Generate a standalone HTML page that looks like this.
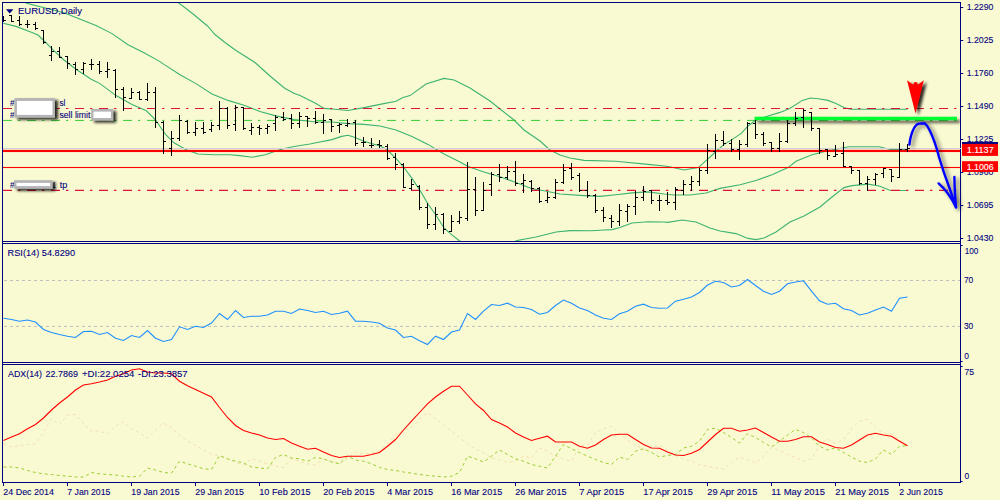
<!DOCTYPE html><html><head><meta charset="utf-8"><title>EURUSD,Daily</title><style>html,body{margin:0;padding:0;background:#FAFAD2;}svg{display:block}</style></head><body><svg width="1000" height="500" viewBox="0 0 1000 500" font-family="Liberation Sans, Arial, sans-serif">
<defs>
<clipPath id="cg"><rect x="754.5" y="116" width="202.5" height="6"/></clipPath>
<clipPath id="cm"><rect x="3" y="3" width="957" height="238"/></clipPath>
<clipPath id="cr"><rect x="3" y="244" width="957" height="118"/></clipPath>
<clipPath id="ca"><rect x="3" y="365" width="957" height="117"/></clipPath>
<filter id="sh" x="-30%" y="-30%" width="180%" height="180%"><feGaussianBlur in="SourceAlpha" stdDeviation="1.7"/><feOffset dx="2.8" dy="2.4"/><feComponentTransfer><feFuncA type="linear" slope="0.85"/></feComponentTransfer><feMerge><feMergeNode/><feMergeNode in="SourceGraphic"/></feMerge></filter>
<filter id="sh3" x="-5%" y="-200%" width="110%" height="600%"><feGaussianBlur in="SourceAlpha" stdDeviation="1.8"/><feOffset dx="2.5" dy="2.8"/><feComponentTransfer><feFuncA type="linear" slope="0.62"/></feComponentTransfer><feMerge><feMergeNode/><feMergeNode in="SourceGraphic"/></feMerge></filter>
<filter id="sh2" x="-30%" y="-30%" width="180%" height="180%"><feGaussianBlur in="SourceAlpha" stdDeviation="2.1"/><feOffset dx="3.4" dy="2.4"/><feComponentTransfer><feFuncA type="linear" slope="0.6"/></feComponentTransfer><feMerge><feMergeNode/><feMergeNode in="SourceGraphic"/></feMerge></filter>
</defs>
<rect width="1000" height="500" fill="#FAFAD2"/>
<g clip-path="url(#cm)">
<polyline points="177.5,2.0 192.5,13.5 207.5,26.0 215.0,34.5 225.0,42.5 236.0,50.5 255.0,62.5 270.0,76.0 285.0,88.5 294.0,93.2 300.0,95.6 310.0,100.4 316.0,103.6 324.0,108.4 335.0,109.2 348.0,110.5 364.0,107.6 380.0,104.4 396.0,101.2 403.0,97.5 410.0,95.6 426.0,84.0 444.0,78.4 454.0,80.0 470.0,88.0 490.0,101.0 500.0,109.0 514.0,120.0 524.0,130.0 540.0,141.0 550.0,150.0 560.0,155.0 570.0,158.0 584.0,160.4 616.0,161.2 648.0,164.4 664.0,166.0 669.6,166.8 684.0,170.0 698.4,167.6 708.0,158.8 716.0,151.5 724.0,144.4 732.0,139.6 741.6,133.2 748.0,126.0 754.4,121.2 764.0,117.2 780.0,112.4 789.6,108.4 802.4,100.4 810.4,98.0 818.4,98.8 828.0,100.4 836.0,103.6 844.0,107.6 850.4,109.2 907.5,109.2" fill="none" stroke="#3CB371" stroke-width="1.1"/>
<polyline points="24.0,1.0 26.4,3.2 64.0,12.8 96.0,25.6 112.0,33.6 128.0,44.8 144.0,52.8 160.0,61.6 164.0,64.4 180.0,74.8 196.0,83.6 212.0,94.0 228.0,100.4 244.0,105.2 252.4,108.4 260.0,111.6 274.8,115.6 294.0,119.6 310.0,121.2 316.0,122.0 332.0,122.0 348.0,123.6 364.0,124.4 380.0,126.0 396.0,130.0 412.0,136.4 428.0,144.4 444.0,154.0 460.0,162.0 468.0,166.4 484.0,172.0 500.0,176.8 516.0,182.4 532.0,188.8 544.0,190.8 560.0,194.0 584.0,195.6 600.0,196.4 616.0,194.8 632.0,192.9 648.0,191.9 664.0,194.0 674.0,195.0 690.0,195.0 706.0,193.0 720.0,188.4 740.0,184.8 756.0,180.5 772.0,174.8 788.0,167.6 796.0,161.2 804.0,158.0 812.0,154.8 820.0,152.8 828.0,150.5 836.0,149.2 848.8,146.8 879.2,146.8 890.4,149.5 907.5,149.5" fill="none" stroke="#3CB371" stroke-width="1.1"/>
<polyline points="3.2,23.2 16.0,26.4 32.0,32.4 38.0,35.0 43.2,40.0 52.8,49.6 64.0,60.0 75.2,68.8 91.2,79.2 100.0,83.6 116.0,95.6 132.0,104.4 146.4,110.8 152.8,117.2 156.4,121.2 162.4,130.0 166.0,134.8 174.0,142.8 186.8,150.0 198.0,154.0 214.0,154.8 230.0,154.8 239.6,155.6 252.4,157.2 265.2,154.8 281.2,149.2 294.0,146.5 310.0,144.0 316.0,142.8 332.0,139.6 341.6,136.4 348.0,135.3 354.4,137.2 364.0,141.2 380.0,146.0 386.4,149.2 396.0,158.5 404.0,167.5 412.0,178.4 420.0,190.4 428.0,204.0 436.0,215.2 444.0,228.0 450.4,233.6 459.0,240.5 475.0,248.0 500.0,248.0 517.0,240.5 536.0,237.0 556.0,232.0 570.0,230.6 592.0,230.8 604.0,230.0 612.0,229.6 620.0,227.5 632.0,223.0 648.0,221.7 664.0,222.0 668.0,222.4 682.0,220.0 696.0,222.0 710.0,228.0 720.0,231.0 736.0,233.6 748.0,238.4 756.0,239.6 764.0,238.0 776.0,232.0 790.0,222.0 804.0,216.0 820.0,207.0 832.0,197.0 844.0,187.6 852.0,185.6 868.0,184.1 879.2,186.0 890.4,190.5 907.5,190.5" fill="none" stroke="#3CB371" stroke-width="1.1"/>
<rect x="3" y="148" width="957" height="1" fill="#D0D0DA"/>
<line x1="3" x2="958" y1="108.5" y2="108.5" stroke="#DC143C" stroke-width="1.1" stroke-dasharray="9 6 2.4 6.6"/>
<line x1="3" x2="958" y1="120.4" y2="120.4" stroke="#32CD32" stroke-width="1" stroke-dasharray="9 6 2.4 6.6"/>
<line x1="3" x2="958" y1="190.4" y2="190.4" stroke="#DC143C" stroke-width="1.1" stroke-dasharray="9 6 2.4 6.6"/>
<rect x="3" y="149.85" width="957" height="2.2" fill="#FF0000"/>
<rect x="3" y="166.95" width="957" height="1.1" fill="#FF0000"/>
<g filter="url(#sh3)"><rect x="754.5" y="116.7" width="202.5" height="3.4" fill="#00FF32"/></g>
<line x1="3" x2="958" y1="120.4" y2="120.4" stroke="#1E9E28" stroke-width="0.9" stroke-dasharray="9 6 2.4 6.6" clip-path="url(#cg)"/>
<path d="M3.5 16V22M1.0 19.5H3.5M3.5 20.5H6.0" stroke="#000" stroke-width="1" fill="none"/>
<path d="M11.5 15V22M9.0 15.5H11.5M11.5 21.5H14.0" stroke="#000" stroke-width="1" fill="none"/>
<path d="M19.5 16V26M17.0 20.5H19.5M19.5 24.5H22.0" stroke="#000" stroke-width="1" fill="none"/>
<path d="M27.5 20V28M25.0 24.5H27.5M27.5 24.5H30.0" stroke="#000" stroke-width="1" fill="none"/>
<path d="M35.5 22V30M33.0 24.5H35.5M35.5 28.5H38.0" stroke="#000" stroke-width="1" fill="none"/>
<path d="M43.5 30V44M41.0 30.5H43.5M43.5 42.5H46.0" stroke="#000" stroke-width="1" fill="none"/>
<path d="M51.5 46V61M49.0 55.5H51.5M51.5 51.5H54.0" stroke="#000" stroke-width="1" fill="none"/>
<path d="M59.5 47V58M57.0 51.5H59.5M59.5 57.5H62.0" stroke="#000" stroke-width="1" fill="none"/>
<path d="M67.5 56V69M65.0 56.5H67.5M67.5 63.5H70.0" stroke="#000" stroke-width="1" fill="none"/>
<path d="M75.5 62V75M73.0 64.5H75.5M75.5 69.5H78.0" stroke="#000" stroke-width="1" fill="none"/>
<path d="M83.5 62V74M81.0 69.5H83.5M83.5 63.5H86.0" stroke="#000" stroke-width="1" fill="none"/>
<path d="M91.5 59V70M89.0 64.5H91.5M91.5 64.5H94.0" stroke="#000" stroke-width="1" fill="none"/>
<path d="M99.5 61V74M97.0 64.5H99.5M99.5 71.5H102.0" stroke="#000" stroke-width="1" fill="none"/>
<path d="M107.5 62V78M105.0 71.5H107.5M107.5 69.5H110.0" stroke="#000" stroke-width="1" fill="none"/>
<path d="M115.5 69V98M113.0 70.5H115.5M115.5 89.5H118.0" stroke="#000" stroke-width="1" fill="none"/>
<path d="M123.5 87V111M121.0 89.5H123.5M123.5 97.5H126.0" stroke="#000" stroke-width="1" fill="none"/>
<path d="M131.5 88V99M129.0 98.5H131.5M131.5 92.5H134.0" stroke="#000" stroke-width="1" fill="none"/>
<path d="M139.5 91V100M137.0 92.5H139.5M139.5 99.5H142.0" stroke="#000" stroke-width="1" fill="none"/>
<path d="M147.5 83V101M145.0 99.5H147.5M147.5 92.5H150.0" stroke="#000" stroke-width="1" fill="none"/>
<path d="M155.5 87V128M153.0 92.5H155.5M155.5 122.5H158.0" stroke="#000" stroke-width="1" fill="none"/>
<path d="M163.5 121V154M161.0 122.5H163.5M163.5 141.5H166.0" stroke="#000" stroke-width="1" fill="none"/>
<path d="M171.5 131V156M169.0 148.5H171.5M171.5 138.5H174.0" stroke="#000" stroke-width="1" fill="none"/>
<path d="M179.5 115V141M177.0 138.5H179.5M179.5 120.5H182.0" stroke="#000" stroke-width="1" fill="none"/>
<path d="M187.5 120V134M185.0 121.5H187.5M187.5 132.5H190.0" stroke="#000" stroke-width="1" fill="none"/>
<path d="M195.5 122V136M193.0 132.5H195.5M195.5 128.5H198.0" stroke="#000" stroke-width="1" fill="none"/>
<path d="M203.5 122V134M201.0 128.5H203.5M203.5 132.5H206.0" stroke="#000" stroke-width="1" fill="none"/>
<path d="M211.5 122V132M209.0 129.5H211.5M211.5 125.5H214.0" stroke="#000" stroke-width="1" fill="none"/>
<path d="M219.5 101V130M217.0 125.5H219.5M219.5 108.5H222.0" stroke="#000" stroke-width="1" fill="none"/>
<path d="M227.5 107V129M225.0 108.5H227.5M227.5 125.5H230.0" stroke="#000" stroke-width="1" fill="none"/>
<path d="M235.5 105V131M233.0 124.5H235.5M235.5 107.5H238.0" stroke="#000" stroke-width="1" fill="none"/>
<path d="M243.5 107V130M241.0 107.5H243.5M243.5 128.5H246.0" stroke="#000" stroke-width="1" fill="none"/>
<path d="M251.5 123V135M249.0 130.5H251.5M251.5 127.5H254.0" stroke="#000" stroke-width="1" fill="none"/>
<path d="M259.5 125V135M257.0 127.5H259.5M259.5 128.5H262.0" stroke="#000" stroke-width="1" fill="none"/>
<path d="M267.5 124V134M265.0 128.5H267.5M267.5 126.5H270.0" stroke="#000" stroke-width="1" fill="none"/>
<path d="M275.5 115V131M273.0 123.5H275.5M275.5 117.5H278.0" stroke="#000" stroke-width="1" fill="none"/>
<path d="M283.5 112V121M281.0 117.5H283.5M283.5 119.5H286.0" stroke="#000" stroke-width="1" fill="none"/>
<path d="M291.5 114V129M289.0 118.5H291.5M291.5 123.5H294.0" stroke="#000" stroke-width="1" fill="none"/>
<path d="M299.5 112V128M297.0 123.5H299.5M299.5 116.5H302.0" stroke="#000" stroke-width="1" fill="none"/>
<path d="M307.5 116V127M305.0 116.5H307.5M307.5 118.5H310.0" stroke="#000" stroke-width="1" fill="none"/>
<path d="M315.5 111V124M313.0 118.5H315.5M315.5 122.5H318.0" stroke="#000" stroke-width="1" fill="none"/>
<path d="M323.5 114V134M321.0 122.5H323.5M323.5 120.5H326.0" stroke="#000" stroke-width="1" fill="none"/>
<path d="M331.5 119V132M329.0 119.5H331.5M331.5 126.5H334.0" stroke="#000" stroke-width="1" fill="none"/>
<path d="M339.5 123V133M337.0 125.5H339.5M339.5 124.5H342.0" stroke="#000" stroke-width="1" fill="none"/>
<path d="M347.5 119V127M345.0 125.5H347.5M347.5 123.5H350.0" stroke="#000" stroke-width="1" fill="none"/>
<path d="M355.5 120V146M353.0 122.5H355.5M355.5 143.5H358.0" stroke="#000" stroke-width="1" fill="none"/>
<path d="M363.5 137V147M361.0 142.5H363.5M363.5 142.5H366.0" stroke="#000" stroke-width="1" fill="none"/>
<path d="M371.5 138V148M369.0 145.5H371.5M371.5 145.5H374.0" stroke="#000" stroke-width="1" fill="none"/>
<path d="M379.5 140V148M377.0 144.5H379.5M379.5 145.5H382.0" stroke="#000" stroke-width="1" fill="none"/>
<path d="M387.5 144V160M385.0 146.5H387.5M387.5 158.5H390.0" stroke="#000" stroke-width="1" fill="none"/>
<path d="M395.5 153V170M393.0 157.5H395.5M395.5 164.5H398.0" stroke="#000" stroke-width="1" fill="none"/>
<path d="M403.5 163V188M401.0 164.5H403.5M403.5 187.5H406.0" stroke="#000" stroke-width="1" fill="none"/>
<path d="M411.5 179V190M409.0 188.5H411.5M411.5 184.5H414.0" stroke="#000" stroke-width="1" fill="none"/>
<path d="M419.5 185V210M417.0 186.5H419.5M419.5 207.5H422.0" stroke="#000" stroke-width="1" fill="none"/>
<path d="M427.5 203V229M425.0 207.5H427.5M427.5 224.5H430.0" stroke="#000" stroke-width="1" fill="none"/>
<path d="M435.5 207V230M433.0 224.5H435.5M435.5 214.5H438.0" stroke="#000" stroke-width="1" fill="none"/>
<path d="M443.5 213V234M441.0 214.5H443.5M443.5 229.5H446.0" stroke="#000" stroke-width="1" fill="none"/>
<path d="M451.5 215V232M449.0 231.5H451.5M451.5 221.5H454.0" stroke="#000" stroke-width="1" fill="none"/>
<path d="M459.5 211V224M457.0 221.5H459.5M459.5 217.5H462.0" stroke="#000" stroke-width="1" fill="none"/>
<path d="M467.5 162V221M465.0 218.5H467.5M467.5 189.5H470.0" stroke="#000" stroke-width="1" fill="none"/>
<path d="M475.5 177V216M473.0 189.5H475.5M475.5 210.5H478.0" stroke="#000" stroke-width="1" fill="none"/>
<path d="M483.5 182V211M481.0 210.5H483.5M483.5 190.5H486.0" stroke="#000" stroke-width="1" fill="none"/>
<path d="M491.5 172V196M489.0 184.5H491.5M491.5 174.5H494.0" stroke="#000" stroke-width="1" fill="none"/>
<path d="M499.5 164V182M497.0 174.5H499.5M499.5 177.5H502.0" stroke="#000" stroke-width="1" fill="none"/>
<path d="M507.5 166V180M505.0 177.5H507.5M507.5 171.5H510.0" stroke="#000" stroke-width="1" fill="none"/>
<path d="M515.5 161V186M513.0 171.5H515.5M515.5 183.5H518.0" stroke="#000" stroke-width="1" fill="none"/>
<path d="M523.5 174V193M521.0 183.5H523.5M523.5 180.5H526.0" stroke="#000" stroke-width="1" fill="none"/>
<path d="M531.5 180V192M529.0 181.5H531.5M531.5 188.5H534.0" stroke="#000" stroke-width="1" fill="none"/>
<path d="M539.5 187V203M537.0 188.5H539.5M539.5 201.5H542.0" stroke="#000" stroke-width="1" fill="none"/>
<path d="M547.5 192V203M545.0 200.5H547.5M547.5 197.5H550.0" stroke="#000" stroke-width="1" fill="none"/>
<path d="M555.5 179V199M553.0 197.5H555.5M555.5 182.5H558.0" stroke="#000" stroke-width="1" fill="none"/>
<path d="M563.5 164V184M561.0 182.5H563.5M563.5 170.5H566.0" stroke="#000" stroke-width="1" fill="none"/>
<path d="M571.5 163V180M569.0 168.5H571.5M571.5 177.5H574.0" stroke="#000" stroke-width="1" fill="none"/>
<path d="M579.5 173V192M577.0 175.5H579.5M579.5 190.5H582.0" stroke="#000" stroke-width="1" fill="none"/>
<path d="M587.5 181V198M585.0 190.5H587.5M587.5 195.5H590.0" stroke="#000" stroke-width="1" fill="none"/>
<path d="M595.5 194V213M593.0 195.5H595.5M595.5 210.5H598.0" stroke="#000" stroke-width="1" fill="none"/>
<path d="M603.5 207V222M601.0 210.5H603.5M603.5 217.5H606.0" stroke="#000" stroke-width="1" fill="none"/>
<path d="M611.5 215V228M609.0 218.5H611.5M611.5 221.5H614.0" stroke="#000" stroke-width="1" fill="none"/>
<path d="M619.5 204V226M617.0 221.5H619.5M619.5 210.5H622.0" stroke="#000" stroke-width="1" fill="none"/>
<path d="M627.5 204V222M625.0 211.5H627.5M627.5 206.5H630.0" stroke="#000" stroke-width="1" fill="none"/>
<path d="M635.5 191V215M633.0 206.5H635.5M635.5 197.5H638.0" stroke="#000" stroke-width="1" fill="none"/>
<path d="M643.5 186V201M641.0 197.5H643.5M643.5 191.5H646.0" stroke="#000" stroke-width="1" fill="none"/>
<path d="M651.5 190V204M649.0 190.5H651.5M651.5 200.5H654.0" stroke="#000" stroke-width="1" fill="none"/>
<path d="M659.5 195V211M657.0 200.5H659.5M659.5 200.5H662.0" stroke="#000" stroke-width="1" fill="none"/>
<path d="M667.5 192V205M665.0 200.5H667.5M667.5 202.5H670.0" stroke="#000" stroke-width="1" fill="none"/>
<path d="M675.5 187V210M673.0 202.5H675.5M675.5 189.5H678.0" stroke="#000" stroke-width="1" fill="none"/>
<path d="M683.5 180V195M681.0 190.5H683.5M683.5 184.5H686.0" stroke="#000" stroke-width="1" fill="none"/>
<path d="M691.5 176V191M689.0 184.5H691.5M691.5 181.5H694.0" stroke="#000" stroke-width="1" fill="none"/>
<path d="M699.5 168V186M697.0 181.5H699.5M699.5 170.5H702.0" stroke="#000" stroke-width="1" fill="none"/>
<path d="M707.5 144V174M705.0 170.5H707.5M707.5 150.5H710.0" stroke="#000" stroke-width="1" fill="none"/>
<path d="M715.5 134V159M713.0 151.5H715.5M715.5 140.5H718.0" stroke="#000" stroke-width="1" fill="none"/>
<path d="M723.5 131V146M721.0 140.5H723.5M723.5 143.5H726.0" stroke="#000" stroke-width="1" fill="none"/>
<path d="M731.5 139V152M729.0 143.5H731.5M731.5 149.5H734.0" stroke="#000" stroke-width="1" fill="none"/>
<path d="M739.5 140V160M737.0 149.5H739.5M739.5 144.5H742.0" stroke="#000" stroke-width="1" fill="none"/>
<path d="M747.5 122V147M745.0 144.5H747.5M747.5 123.5H750.0" stroke="#000" stroke-width="1" fill="none"/>
<path d="M755.5 120V139M753.0 123.5H755.5M755.5 134.5H758.0" stroke="#000" stroke-width="1" fill="none"/>
<path d="M763.5 132V146M761.0 134.5H763.5M763.5 143.5H766.0" stroke="#000" stroke-width="1" fill="none"/>
<path d="M771.5 142V152M769.0 142.5H771.5M771.5 148.5H774.0" stroke="#000" stroke-width="1" fill="none"/>
<path d="M779.5 133V152M777.0 148.5H779.5M779.5 141.5H782.0" stroke="#000" stroke-width="1" fill="none"/>
<path d="M787.5 120V143M785.0 141.5H787.5M787.5 123.5H790.0" stroke="#000" stroke-width="1" fill="none"/>
<path d="M795.5 112V126M793.0 123.5H795.5M795.5 118.5H798.0" stroke="#000" stroke-width="1" fill="none"/>
<path d="M803.5 109V128M801.0 117.5H803.5M803.5 110.5H806.0" stroke="#000" stroke-width="1" fill="none"/>
<path d="M811.5 112V131M809.0 112.5H811.5M811.5 128.5H814.0" stroke="#000" stroke-width="1" fill="none"/>
<path d="M819.5 128V154M817.0 128.5H819.5M819.5 150.5H822.0" stroke="#000" stroke-width="1" fill="none"/>
<path d="M827.5 149V160M825.0 149.5H827.5M827.5 155.5H830.0" stroke="#000" stroke-width="1" fill="none"/>
<path d="M835.5 145V157M833.0 156.5H835.5M835.5 154.5H838.0" stroke="#000" stroke-width="1" fill="none"/>
<path d="M843.5 142V167M841.0 153.5H843.5M843.5 166.5H846.0" stroke="#000" stroke-width="1" fill="none"/>
<path d="M851.5 166V174M849.0 166.5H851.5M851.5 170.5H854.0" stroke="#000" stroke-width="1" fill="none"/>
<path d="M859.5 170V185M857.0 170.5H859.5M859.5 183.5H862.0" stroke="#000" stroke-width="1" fill="none"/>
<path d="M867.5 176V191M865.0 183.5H867.5M867.5 179.5H870.0" stroke="#000" stroke-width="1" fill="none"/>
<path d="M875.5 173V185M873.0 179.5H875.5M875.5 174.5H878.0" stroke="#000" stroke-width="1" fill="none"/>
<path d="M883.5 168V178M881.0 173.5H883.5M883.5 168.5H886.0" stroke="#000" stroke-width="1" fill="none"/>
<path d="M891.5 169V182M889.0 169.5H891.5M891.5 176.5H894.0" stroke="#000" stroke-width="1" fill="none"/>
<path d="M899.5 143V178M897.0 177.5H899.5M899.5 149.5H902.0" stroke="#000" stroke-width="1" fill="none"/>
<path d="M907.5 144V152M905.0 149.5H907.5M907.5 148.5H910.0" stroke="#000" stroke-width="1" fill="none"/>
</g>
<g filter="url(#sh)"><path d="M907 80.2 L913.2 84.8 L914 82.6 Q915.6 81.4 917.2 82.6 L917.8 84.8 L923.8 80.2 L915.5 113.6 Z" fill="#FF0000"/></g>
<g filter="url(#sh2)" fill="none" stroke="#0000FF" stroke-width="2.4" stroke-linecap="round" stroke-linejoin="round"><path d="M909.4 144.6 C910 139 911.5 133 913.8 128.5 C915.2 125.6 917 124 919.2 123.6 L924.6 123.3 C926.5 124.6 928 127 929.5 130 C934 139 937 149 939 157 C942 167 945 176 948 184 C951 192 953.5 200 956 207.2"/><path d="M938.6 183.4 C944 188 951 197 956 207.2"/><path d="M954.4 177 C954.6 187 955 198 956 207.2"/></g>
<text x="10" y="105.6" font-size="9.5" fill="#000080" stroke="#000080" stroke-width="0.1" textLength="4.5" lengthAdjust="spacingAndGlyphs" >#</text>
<text x="59.4" y="105.6" font-size="9.5" fill="#000080" stroke="#000080" stroke-width="0.1" textLength="6" lengthAdjust="spacingAndGlyphs" >sl</text>
<text x="10" y="117.7" font-size="9.5" fill="#000080" stroke="#000080" stroke-width="0.1" textLength="4.5" lengthAdjust="spacingAndGlyphs" >#</text>
<text x="59.4" y="117.7" font-size="9.5" fill="#000080" stroke="#000080" stroke-width="0.1" textLength="31" lengthAdjust="spacingAndGlyphs" >sell limit</text>
<g filter="url(#sh)"><rect x="14.4" y="98.1" width="40.6" height="19.6" fill="#B4B4B4"/></g><rect x="16.9" y="100.89999999999999" width="35.6" height="14.000000000000002" fill="#fff"/>
<g filter="url(#sh)"><rect x="91.2" y="109" width="22" height="11.6" fill="#B4B4B4"/></g><rect x="93.5" y="111.6" width="17.4" height="6.4" fill="#fff"/>
<text x="10" y="187.6" font-size="9.5" fill="#000080" stroke="#000080" stroke-width="0.1" textLength="4.5" lengthAdjust="spacingAndGlyphs" >#</text>
<text x="52.7" y="187.6" font-size="9.5" fill="#000080" stroke="#000080" stroke-width="0.1" textLength="3" lengthAdjust="spacingAndGlyphs" >1</text>
<text x="59.7" y="187.6" font-size="9.5" fill="#000080" stroke="#000080" stroke-width="0.1" textLength="7.5" lengthAdjust="spacingAndGlyphs" >tp</text>
<g filter="url(#sh)"><rect x="14" y="180.2" width="38.5" height="8.6" fill="#B4B4B4"/></g><rect x="16.4" y="182.9" width="33.7" height="3.1999999999999997" fill="#fff"/>
<path d="M6 9.2H13.4L9.7 13.4Z" fill="#000080"/>
<text x="18" y="13.6" font-size="9.5" fill="#000080" stroke="#000080" stroke-width="0.1" textLength="64" lengthAdjust="spacingAndGlyphs" >EURUSD,Daily</text>
<g clip-path="url(#cr)">
<line x1="4" x2="960" y1="280.5" y2="280.5" stroke="#BEBEBE" stroke-width="1" stroke-dasharray="3 3"/>
<line x1="4" x2="960" y1="326.4" y2="326.4" stroke="#BEBEBE" stroke-width="1" stroke-dasharray="3 3"/>
<polyline points="3.5,318.2 11.5,319.5 19.5,321.2 27.5,320.0 35.5,322.0 43.5,329.5 51.5,332.5 59.5,334.5 67.5,336.2 75.5,337.5 83.5,331.5 91.5,331.2 99.5,334.5 107.5,332.5 115.5,338.2 123.5,340.5 131.5,335.5 139.5,337.5 147.5,330.5 155.5,338.2 163.5,341.5 171.5,339.5 179.5,326.8 187.5,329.5 195.5,326.2 203.5,327.5 211.5,323.0 219.5,313.5 227.5,319.5 235.5,310.5 243.5,317.5 251.5,316.2 259.5,316.2 267.5,315.0 275.5,311.2 283.5,311.2 291.5,313.5 299.5,309.0 307.5,310.5 315.5,312.5 323.5,311.2 331.5,314.5 339.5,313.2 347.5,311.2 355.5,321.2 363.5,321.2 371.5,322.0 379.5,323.2 387.5,328.0 395.5,330.0 403.5,337.5 411.5,336.2 419.5,340.8 427.5,344.5 435.5,336.2 443.5,339.5 451.5,332.0 459.5,330.0 467.5,313.5 475.5,319.5 483.5,311.2 491.5,304.5 499.5,305.5 507.5,303.2 515.5,307.0 523.5,307.5 531.5,309.5 539.5,314.2 547.5,312.5 555.5,305.5 563.5,300.0 571.5,303.2 579.5,308.0 587.5,310.5 595.5,315.0 603.5,318.2 611.5,319.5 619.5,313.8 627.5,311.2 635.5,306.2 643.5,304.2 651.5,307.5 659.5,308.2 667.5,308.0 675.5,301.2 683.5,299.2 691.5,297.0 699.5,292.5 707.5,285.0 715.5,281.2 723.5,282.5 731.5,287.0 739.5,285.5 747.5,279.5 755.5,285.5 763.5,291.2 771.5,294.5 779.5,291.2 787.5,283.8 795.5,282.0 803.5,280.8 811.5,291.2 819.5,300.8 827.5,304.2 835.5,303.2 843.5,308.8 851.5,310.5 859.5,315.0 867.5,313.2 875.5,310.0 883.5,307.0 891.5,311.2 899.5,298.2 907.5,297.0" fill="none" stroke="#1E90FF" stroke-width="1.1"/>
</g>
<text x="7.6" y="255.6" font-size="9.5" fill="#000080" stroke="#000080" stroke-width="0.1" textLength="67.5" lengthAdjust="spacingAndGlyphs" >RSI(14) 54.8290</text>
<g clip-path="url(#ca)">
<polyline points="3.5,443.8 11.5,447.0 19.5,445.5 27.5,444.5 35.5,443.8 43.5,432.5 51.5,418.8 59.5,424.5 67.5,415.0 75.5,414.5 83.5,423.8 91.5,431.2 99.5,431.2 107.5,433.8 115.5,426.2 123.5,422.0 131.5,428.8 139.5,433.0 147.5,438.0 155.5,430.0 163.5,423.0 171.5,428.0 179.5,435.0 187.5,441.2 195.5,445.5 203.5,450.0 211.5,453.8 219.5,456.2 227.5,458.8 235.5,462.5 243.5,465.0 251.5,458.8 259.5,461.2 267.5,463.8 275.5,466.2 283.5,467.5 291.5,458.8 299.5,461.2 307.5,463.8 315.5,465.0 323.5,458.8 331.5,461.2 339.5,463.8 347.5,458.8 355.5,452.0 363.5,453.8 371.5,453.0 379.5,451.2 387.5,443.8 395.5,435.0 403.5,430.0 411.5,427.5 419.5,419.5 427.5,412.5 435.5,418.8 443.5,424.5 451.5,431.2 459.5,437.5 467.5,443.8 475.5,448.8 483.5,452.8 491.5,458.0 499.5,460.0 507.5,462.5 515.5,461.2 523.5,456.2 531.5,458.0 539.5,448.0 547.5,451.2 555.5,456.2 563.5,458.8 571.5,461.2 579.5,446.2 587.5,445.0 595.5,432.5 603.5,428.8 611.5,426.2 619.5,433.8 627.5,440.0 635.5,445.0 643.5,450.0 651.5,448.0 659.5,445.0 667.5,450.5 675.5,455.5 683.5,458.8 691.5,461.2 699.5,464.5 707.5,466.2 715.5,468.0 723.5,469.2 731.5,462.5 739.5,457.0 747.5,460.0 755.5,463.0 763.5,456.2 771.5,447.5 779.5,450.5 787.5,454.5 795.5,457.5 803.5,461.2 811.5,458.8 819.5,445.0 827.5,438.8 835.5,443.8 843.5,439.5 851.5,428.8 859.5,421.2 867.5,419.5 875.5,427.5 883.5,433.8 891.5,433.8 899.5,440.0 907.5,445.8" fill="none" stroke="#F5DEB3" stroke-width="1" stroke-dasharray="3 3"/>
<polyline points="3.5,467.0 11.5,467.0 19.5,468.0 27.5,470.5 35.5,472.5 43.5,473.8 51.5,474.5 59.5,475.5 67.5,476.2 75.5,477.0 83.5,477.0 91.5,472.5 99.5,473.8 107.5,474.5 115.5,475.0 123.5,476.2 131.5,477.0 139.5,476.2 147.5,468.0 155.5,470.0 163.5,472.5 171.5,473.0 179.5,461.2 187.5,463.8 195.5,466.2 203.5,468.8 211.5,469.5 219.5,455.5 227.5,458.8 235.5,461.2 243.5,462.8 251.5,467.0 259.5,468.0 267.5,468.8 275.5,457.5 283.5,454.5 291.5,458.0 299.5,458.8 307.5,461.2 315.5,457.5 323.5,458.8 331.5,462.0 339.5,463.8 347.5,456.2 355.5,460.0 363.5,461.2 371.5,463.8 379.5,467.5 387.5,469.5 395.5,470.5 403.5,472.0 411.5,473.2 419.5,474.5 427.5,475.5 435.5,476.2 443.5,477.0 451.5,476.2 459.5,472.5 467.5,456.2 475.5,458.8 483.5,462.0 491.5,456.2 499.5,450.0 507.5,454.5 515.5,458.8 523.5,461.2 531.5,464.5 539.5,466.2 547.5,468.0 555.5,456.2 563.5,444.5 571.5,448.8 579.5,452.5 587.5,456.2 595.5,459.5 603.5,462.5 611.5,464.5 619.5,457.0 627.5,459.5 635.5,451.2 643.5,448.8 651.5,452.5 659.5,457.0 667.5,455.5 675.5,454.5 683.5,448.0 691.5,446.2 699.5,441.2 707.5,429.5 715.5,428.2 723.5,432.5 731.5,437.5 739.5,443.0 747.5,433.8 755.5,437.5 763.5,442.5 771.5,447.0 779.5,441.2 787.5,435.0 795.5,429.5 803.5,432.5 811.5,438.0 819.5,446.2 827.5,450.0 835.5,448.0 843.5,452.5 851.5,457.0 859.5,461.2 867.5,462.5 875.5,458.8 883.5,450.0 891.5,454.5 899.5,446.2 907.5,445.8" fill="none" stroke="#9ACD32" stroke-width="1" stroke-dasharray="3 3"/>
<polyline points="3.5,440.5 11.5,437.0 19.5,433.8 27.5,428.8 35.5,424.5 43.5,418.0 51.5,410.0 59.5,403.0 67.5,397.0 75.5,390.0 83.5,385.0 91.5,383.8 99.5,382.0 107.5,380.0 115.5,376.2 123.5,373.8 131.5,370.0 139.5,368.8 147.5,372.0 155.5,373.0 163.5,373.0 171.5,373.8 179.5,381.2 187.5,385.8 195.5,389.5 203.5,393.2 211.5,397.0 219.5,407.5 227.5,417.5 235.5,425.5 243.5,430.5 251.5,433.0 259.5,435.0 267.5,438.0 275.5,439.5 283.5,438.5 291.5,443.0 299.5,446.2 307.5,449.2 315.5,448.2 323.5,452.0 331.5,455.5 339.5,457.5 347.5,456.2 355.5,456.2 363.5,456.2 371.5,454.5 379.5,452.5 387.5,446.2 395.5,439.5 403.5,430.0 411.5,421.2 419.5,412.5 427.5,403.8 435.5,397.0 443.5,391.2 451.5,386.2 459.5,386.2 467.5,395.0 475.5,403.8 483.5,410.5 491.5,419.5 499.5,423.0 507.5,427.0 515.5,433.0 523.5,437.0 531.5,440.5 539.5,438.2 547.5,436.2 555.5,442.0 563.5,442.0 571.5,442.0 579.5,446.2 587.5,448.2 595.5,445.0 603.5,439.5 611.5,435.0 619.5,434.2 627.5,434.2 635.5,439.5 643.5,444.5 651.5,448.0 659.5,448.2 667.5,452.0 675.5,455.0 683.5,455.5 691.5,453.2 699.5,449.5 707.5,442.0 715.5,434.5 723.5,428.2 731.5,428.2 739.5,431.2 747.5,430.0 755.5,428.0 763.5,432.5 771.5,437.0 779.5,441.2 787.5,441.2 795.5,439.5 803.5,436.8 811.5,436.8 819.5,442.0 827.5,444.5 835.5,447.5 843.5,448.2 851.5,445.0 859.5,440.0 867.5,435.0 875.5,433.2 883.5,435.0 891.5,436.2 899.5,441.2 907.5,445.8" fill="none" stroke="#FF0000" stroke-width="1.1"/>
</g>
<text x="8" y="377.2" font-size="9.5" fill="#000080" stroke="#000080" stroke-width="0.1" textLength="34" lengthAdjust="spacingAndGlyphs" >ADX(14)</text>
<text x="45.6" y="377.2" font-size="9.5" fill="#000080" stroke="#000080" stroke-width="0.1" textLength="32.4" lengthAdjust="spacingAndGlyphs" >22.7869</text>
<text x="82" y="377.2" font-size="9.5" fill="#000080" stroke="#000080" stroke-width="0.1" textLength="52.4" lengthAdjust="spacingAndGlyphs" >+DI:22.0254</text>
<text x="138" y="377.2" font-size="9.5" fill="#000080" stroke="#000080" stroke-width="0.1" textLength="49.6" lengthAdjust="spacingAndGlyphs" >-DI:23.3857</text>
<rect x="2" y="2" width="959" height="1" fill="#000080"/>
<rect x="2" y="241" width="959" height="1" fill="#000080"/>
<rect x="2" y="243" width="959" height="1" fill="#000080"/>
<rect x="2" y="362" width="959" height="1" fill="#000080"/>
<rect x="2" y="364" width="959" height="1" fill="#000080"/>
<rect x="2" y="482" width="959" height="1" fill="#000080"/>
<rect x="2" y="2" width="1" height="481" fill="#000080"/>
<rect x="960" y="2" width="1" height="481" fill="#000080"/>
<rect x="961" y="7" width="2.2" height="1" fill="#000080"/>
<text x="966.7" y="10.1" font-size="9.9" fill="#000080" stroke="#000080" stroke-width="0.1" textLength="26.8" lengthAdjust="spacingAndGlyphs" >1.2290</text>
<rect x="961" y="40" width="2.2" height="1" fill="#000080"/>
<text x="966.7" y="43.1" font-size="9.9" fill="#000080" stroke="#000080" stroke-width="0.1" textLength="26.8" lengthAdjust="spacingAndGlyphs" >1.2025</text>
<rect x="961" y="73" width="2.2" height="1" fill="#000080"/>
<text x="966.7" y="76.1" font-size="9.9" fill="#000080" stroke="#000080" stroke-width="0.1" textLength="26.8" lengthAdjust="spacingAndGlyphs" >1.1760</text>
<rect x="961" y="106" width="2.2" height="1" fill="#000080"/>
<text x="966.7" y="109.1" font-size="9.9" fill="#000080" stroke="#000080" stroke-width="0.1" textLength="26.8" lengthAdjust="spacingAndGlyphs" >1.1490</text>
<rect x="961" y="139" width="2.2" height="1" fill="#000080"/>
<text x="966.7" y="142.1" font-size="9.9" fill="#000080" stroke="#000080" stroke-width="0.1" textLength="26.8" lengthAdjust="spacingAndGlyphs" >1.1225</text>
<rect x="961" y="172" width="2.2" height="1" fill="#000080"/>
<text x="966.7" y="175.1" font-size="9.9" fill="#000080" stroke="#000080" stroke-width="0.1" textLength="26.8" lengthAdjust="spacingAndGlyphs" >1.0960</text>
<rect x="961" y="205" width="2.2" height="1" fill="#000080"/>
<text x="966.7" y="208.1" font-size="9.9" fill="#000080" stroke="#000080" stroke-width="0.1" textLength="26.8" lengthAdjust="spacingAndGlyphs" >1.0695</text>
<rect x="961" y="238" width="2.2" height="1" fill="#000080"/>
<text x="966.7" y="241.1" font-size="9.9" fill="#000080" stroke="#000080" stroke-width="0.1" textLength="26.8" lengthAdjust="spacingAndGlyphs" >1.0430</text>
<rect x="962" y="142" width="36" height="4" fill="#000080"/>
<rect x="962" y="143.9" width="36" height="12" fill="#FF0000"/>
<text x="966.7" y="153.2" font-size="9.7" fill="#fff" stroke="#fff" stroke-width="0.1" textLength="27" lengthAdjust="spacingAndGlyphs" >1.1137</text>
<rect x="962" y="161.2" width="36" height="10.8" fill="#FF0000"/>
<text x="966.7" y="170.3" font-size="9.7" fill="#fff" stroke="#fff" stroke-width="0.1" textLength="27" lengthAdjust="spacingAndGlyphs" >1.1006</text>
<rect x="960" y="148" width="1.5" height="1" fill="#D0D0DA"/>
<text x="964.8" y="253.7" font-size="9.9" fill="#000080" stroke="#000080" stroke-width="0.1" textLength="13.6" lengthAdjust="spacingAndGlyphs" >100</text>
<text x="963.9" y="282.9" font-size="9.9" fill="#000080" stroke="#000080" stroke-width="0.1" textLength="9.4" lengthAdjust="spacingAndGlyphs" >70</text>
<text x="963.9" y="328.9" font-size="9.9" fill="#000080" stroke="#000080" stroke-width="0.1" textLength="9.4" lengthAdjust="spacingAndGlyphs" >30</text>
<text x="964.3" y="358.9" font-size="9.9" fill="#000080" stroke="#000080" stroke-width="0.1" textLength="4.7" lengthAdjust="spacingAndGlyphs" >0</text>
<rect x="961" y="245" width="1.6" height="1" fill="#000080"/>
<text x="964.4" y="374.9" font-size="9.9" fill="#000080" stroke="#000080" stroke-width="0.1" textLength="9.6" lengthAdjust="spacingAndGlyphs" >75</text>
<text x="964.5" y="478.8" font-size="9.9" fill="#000080" stroke="#000080" stroke-width="0.1" textLength="4.7" lengthAdjust="spacingAndGlyphs" >0</text>
<rect x="961" y="366" width="1.6" height="1" fill="#000080"/>
<rect x="961" y="361" width="1.6" height="1" fill="#000080"/>
<rect x="961" y="481" width="1.6" height="1" fill="#000080"/>
<rect x="3" y="483" width="1" height="3" fill="#000080"/>
<text x="3.3" y="495" font-size="9.5" fill="#000080" stroke="#000080" stroke-width="0.1" textLength="50.6" lengthAdjust="spacingAndGlyphs" >24 Dec 2014</text>
<rect x="67" y="483" width="1" height="3" fill="#000080"/>
<text x="67.3" y="495" font-size="9.5" fill="#000080" stroke="#000080" stroke-width="0.1" textLength="43" lengthAdjust="spacingAndGlyphs" >7 Jan 2015</text>
<rect x="131" y="483" width="1" height="3" fill="#000080"/>
<text x="131.3" y="495" font-size="9.5" fill="#000080" stroke="#000080" stroke-width="0.1" textLength="48.2" lengthAdjust="spacingAndGlyphs" >19 Jan 2015</text>
<rect x="195" y="483" width="1" height="3" fill="#000080"/>
<text x="195.3" y="495" font-size="9.5" fill="#000080" stroke="#000080" stroke-width="0.1" textLength="48.75" lengthAdjust="spacingAndGlyphs" >29 Jan 2015</text>
<rect x="259" y="483" width="1" height="3" fill="#000080"/>
<text x="259.3" y="495" font-size="9.5" fill="#000080" stroke="#000080" stroke-width="0.1" textLength="51.25" lengthAdjust="spacingAndGlyphs" >10 Feb 2015</text>
<rect x="323" y="483" width="1" height="3" fill="#000080"/>
<text x="323.3" y="495" font-size="9.5" fill="#000080" stroke="#000080" stroke-width="0.1" textLength="51.25" lengthAdjust="spacingAndGlyphs" >20 Feb 2015</text>
<rect x="387" y="483" width="1" height="3" fill="#000080"/>
<text x="387.3" y="495" font-size="9.5" fill="#000080" stroke="#000080" stroke-width="0.1" textLength="45.75" lengthAdjust="spacingAndGlyphs" >4 Mar 2015</text>
<rect x="451" y="483" width="1" height="3" fill="#000080"/>
<text x="451.3" y="495" font-size="9.5" fill="#000080" stroke="#000080" stroke-width="0.1" textLength="51" lengthAdjust="spacingAndGlyphs" >16 Mar 2015</text>
<rect x="515" y="483" width="1" height="3" fill="#000080"/>
<text x="515.3" y="495" font-size="9.5" fill="#000080" stroke="#000080" stroke-width="0.1" textLength="51.25" lengthAdjust="spacingAndGlyphs" >26 Mar 2015</text>
<rect x="579" y="483" width="1" height="3" fill="#000080"/>
<text x="579.3" y="495" font-size="9.5" fill="#000080" stroke="#000080" stroke-width="0.1" textLength="45" lengthAdjust="spacingAndGlyphs" >7 Apr 2015</text>
<rect x="643" y="483" width="1" height="3" fill="#000080"/>
<text x="643.3" y="495" font-size="9.5" fill="#000080" stroke="#000080" stroke-width="0.1" textLength="49.5" lengthAdjust="spacingAndGlyphs" >17 Apr 2015</text>
<rect x="707" y="483" width="1" height="3" fill="#000080"/>
<text x="707.3" y="495" font-size="9.5" fill="#000080" stroke="#000080" stroke-width="0.1" textLength="50" lengthAdjust="spacingAndGlyphs" >29 Apr 2015</text>
<rect x="771" y="483" width="1" height="3" fill="#000080"/>
<text x="771.3" y="495" font-size="9.5" fill="#000080" stroke="#000080" stroke-width="0.1" textLength="53.75" lengthAdjust="spacingAndGlyphs" >11 May 2015</text>
<rect x="835" y="483" width="1" height="3" fill="#000080"/>
<text x="835.3" y="495" font-size="9.5" fill="#000080" stroke="#000080" stroke-width="0.1" textLength="53.75" lengthAdjust="spacingAndGlyphs" >21 May 2015</text>
<rect x="899" y="483" width="1" height="3" fill="#000080"/>
<text x="899.3" y="495" font-size="9.5" fill="#000080" stroke="#000080" stroke-width="0.1" textLength="43.5" lengthAdjust="spacingAndGlyphs" >2 Jun 2015</text>
</svg></body></html>
